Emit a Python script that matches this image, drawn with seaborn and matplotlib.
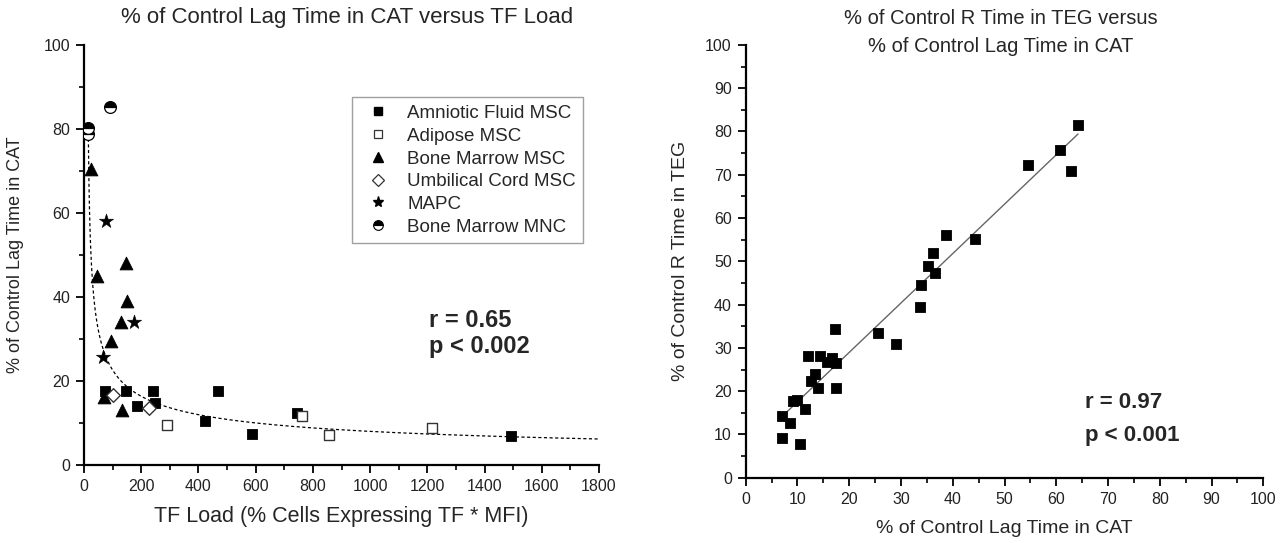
import numpy as np
import matplotlib
matplotlib.use("Agg")
import matplotlib.pyplot as plt
import seaborn as sns
from matplotlib.lines import Line2D
from matplotlib.ticker import MultipleLocator

sns.set_theme(style="ticks")
plt.rcParams['font.family'] = ['Liberation Sans', 'DejaVu Sans']

# ---------------- Left panel data ----------------
af_x = [73, 147, 240, 248, 184, 467, 423, 588, 745, 1494]
af_y = [17.6, 17.6, 17.6, 14.7, 14.1, 17.6, 10.5, 7.3, 12.3, 7.0]
ad_x = [289, 763, 856, 1218]
ad_y = [9.5, 11.7, 7.1, 8.9]
bm_x = [23, 146, 46, 149, 128, 93, 71, 132]
bm_y = [70.4, 48.2, 45.0, 39.1, 34.1, 29.5, 16.1, 13.1]
uc_x = [100, 227]
uc_y = [16.7, 13.5]
mapc_x = [76, 176, 65]
mapc_y = [58.2, 34.0, 25.8]
mnc_x = [91, 14, 14]
mnc_y = [85.3, 80.3, 78.8]

# dotted fit curve y = a * (x - x0) ** b
fit_a, fit_x0, fit_b = 158.6, 10.0, -0.433
fit_start, fit_end = 15.0, 1800.0

left_labels = ["Amniotic Fluid MSC", "Adipose MSC", "Bone Marrow MSC",
               "Umbilical Cord MSC", "MAPC", "Bone Marrow MNC"]

# ---------------- Right panel data ----------------
cat_x = [7.0, 7.0, 8.6, 9.1, 9.9, 10.4, 11.5, 12.1, 12.7, 13.3, 13.9, 14.4,
         15.8, 16.6, 17.4, 17.4, 17.3, 25.6, 29.0, 33.7, 33.8, 35.2, 36.1,
         36.5, 38.7, 44.3, 54.6, 60.7, 62.9, 64.2]
teg_y = [9.2, 14.2, 12.6, 17.7, 18.0, 7.9, 15.8, 28.1, 22.4, 24.0, 20.7, 28.1,
         26.8, 27.6, 26.6, 20.7, 34.3, 33.5, 31.0, 39.4, 44.5, 48.8, 52.0,
         47.2, 56.0, 55.1, 72.3, 75.7, 70.8, 81.4]

W, H = 1288, 543
fig = plt.figure(figsize=(W / 100, H / 100), dpi=100)
fig.patch.set_facecolor("white")

ax1 = fig.add_axes([84 / W, 1 - 465 / H, 515 / W, (465 - 44.9) / H])
ax2 = fig.add_axes([745.7 / W, 1 - 477.7 / H, 517.6 / W, (477.7 - 44.9) / H])

# fit curve
cx = np.linspace(fit_start, fit_end, 800)
cy = fit_a * (cx - fit_x0) ** fit_b
ax1.plot(cx, cy, color="black", lw=0.9, ls=(0, (2.5, 2)), zorder=1)

ms = 58
sns.scatterplot(x=af_x, y=af_y, marker="s", facecolor="black", edgecolor="black",
                s=ms, linewidth=0.6, ax=ax1, zorder=3)
sns.scatterplot(x=ad_x, y=ad_y, marker="s", facecolor="white", edgecolor="#333333",
                s=ms, linewidth=1.0, ax=ax1, zorder=3)
sns.scatterplot(x=bm_x, y=bm_y, marker="^", facecolor="black", edgecolor="black",
                s=85, linewidth=0.6, ax=ax1, zorder=3)
sns.scatterplot(x=uc_x, y=uc_y, marker="D", facecolor="white", edgecolor="#333333",
                s=48, linewidth=1.0, ax=ax1, zorder=3)
sns.scatterplot(x=mapc_x, y=mapc_y, marker="*", facecolor="black", edgecolor="black",
                s=115, linewidth=0.4, ax=ax1, zorder=3)
ax1.plot(mnc_x, mnc_y, ls="none", marker="o", ms=8.5, fillstyle="top",
         markerfacecolor="black", markerfacecoloralt="white",
         markeredgecolor="black", markeredgewidth=0.9, zorder=4)

handles = [
    Line2D([], [], ls="none", marker="s", ms=6, mfc="black", mec="black"),
    Line2D([], [], ls="none", marker="s", ms=6, mfc="white", mec="#333333", mew=0.9),
    Line2D([], [], ls="none", marker="^", ms=7, mfc="black", mec="black"),
    Line2D([], [], ls="none", marker="D", ms=6, mfc="white", mec="#333333", mew=0.9),
    Line2D([], [], ls="none", marker="*", ms=8, mfc="black", mec="black"),
    Line2D([], [], ls="none", marker="o", ms=7, fillstyle="top", mfc="black",
           mfcalt="white", mec="black", mew=0.8),
]
leg = ax1.legend(handles, left_labels, loc="upper left", bbox_to_anchor=(0.52, 0.875),
                 frameon=True, fancybox=False, edgecolor="#888888", fontsize=13.5,
                 handlelength=2.0, handletextpad=0.55, labelspacing=0.3,
                 borderpad=0.4, borderaxespad=0)
leg.get_frame().set_linewidth(1.0)

ax1.text(1205, 34.5, "r = 0.65", fontsize=17, fontweight="bold", va="center", ha="left")
ax1.text(1205, 28.3, "p < 0.002", fontsize=17, fontweight="bold", va="center", ha="left")

ax1.set_xlim(0, 1800)
ax1.set_ylim(0, 100)
ax1.xaxis.set_major_locator(MultipleLocator(200))
ax1.xaxis.set_minor_locator(MultipleLocator(100))
ax1.yaxis.set_major_locator(MultipleLocator(20))
ax1.yaxis.set_minor_locator(MultipleLocator(10))
ax1.set_xlabel("TF Load (% Cells Expressing TF * MFI)", fontsize=15.5, labelpad=9)
ax1.set_ylabel("% of Control Lag Time in CAT", fontsize=13, labelpad=14)

# right panel
sns.regplot(x=cat_x, y=teg_y, scatter=False, ci=None, truncate=True,
            color="#666666", line_kws=dict(lw=1.0), ax=ax2)
sns.scatterplot(x=cat_x, y=teg_y, marker="s", facecolor="black", edgecolor="black",
                s=62, linewidth=0.6, ax=ax2, zorder=3)
ax2.text(65.5, 17.3, "r = 0.97", fontsize=16, fontweight="bold", va="center", ha="left")
ax2.text(65.5, 9.8, "p < 0.001", fontsize=16, fontweight="bold", va="center", ha="left")
ax2.set_xlim(0, 100)
ax2.set_ylim(0, 100)
ax2.xaxis.set_major_locator(MultipleLocator(10))
ax2.xaxis.set_minor_locator(MultipleLocator(5))
ax2.yaxis.set_major_locator(MultipleLocator(10))
ax2.yaxis.set_minor_locator(MultipleLocator(5))
ax2.set_xlabel("% of Control Lag Time in CAT", fontsize=14, labelpad=10)
ax2.set_ylabel("% of Control R Time in TEG", fontsize=14, labelpad=12)

for ax in (ax1, ax2):
    for side in ("top", "right"):
        ax.spines[side].set_visible(False)
    for side in ("left", "bottom"):
        ax.spines[side].set_linewidth(1.6)
        ax.spines[side].set_color("black")
    ax.tick_params(which="major", direction="out", length=6, width=1.3,
                   labelsize=11.5, colors="black", pad=4)
    ax.tick_params(which="minor", direction="out", length=3.5, width=1.2, colors="black")
    ax.set_facecolor("white")
    ax.grid(False)
    for t in ax.get_xticklabels() + ax.get_yticklabels():
        t.set_color("#222222")

fig.text(347 / W, 1 - 18 / H, "% of Control Lag Time in CAT versus TF Load",
         fontsize=16, ha="center", va="center")
fig.text(1001 / W, 1 - 18 / H, "% of Control R Time in TEG versus",
         fontsize=14.5, ha="center", va="center")
fig.text(1001 / W, 1 - 46 / H, "% of Control Lag Time in CAT",
         fontsize=14.5, ha="center", va="center")

fig.savefig("out.png", dpi=100, facecolor="white")
